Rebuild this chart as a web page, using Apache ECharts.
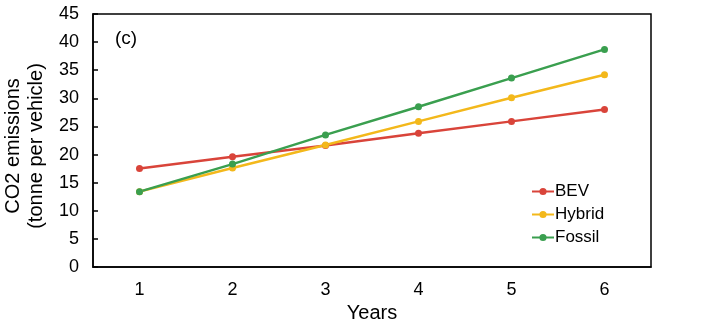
<!DOCTYPE html>
<html><head><meta charset="utf-8">
<script src="https://cdn.jsdelivr.net/npm/echarts@6/dist/echarts.min.js"></script>
<style>html,body{margin:0;padding:0;background:#fff}#c{width:720px;height:324px}</style>
</head><body><div id="c"></div>
<script>
const years = ['1','2','3','4','5','6'];
const bev = [17.5, 19.6, 21.6, 23.8, 25.9, 28.0];
const hybrid = [13.4, 17.6, 21.7, 25.9, 30.1, 34.2];
const fossil = [13.4, 18.3, 23.5, 28.5, 33.6, 38.7];
const yTicks = {min: 0, max: 45, interval: 5};
const F = 'Liberation Sans, Arial, sans-serif';
const chart = echarts.init(document.getElementById('c'), null, {renderer:'canvas'});
function s(name, data, color){
  return {name, type:'line', data, color, symbol:'circle', symbolSize:7,
    lineStyle:{width:2.5, color}, itemStyle:{color}, animation:false};
}
chart.setOption({
  animation:false,
  textStyle:{fontFamily:F},
  grid:{left:93, right:69, top:14, bottom:57, outerBoundsMode:'none', containLabel:false,
    show:true, borderColor:'#000', borderWidth:1.5, backgroundColor:'transparent'},
  xAxis:{type:'category', data:years, boundaryGap:true,
    name:'Years', nameLocation:'middle', nameGap:36,
    nameTextStyle:{fontSize:20, color:'#000', fontFamily:F},
    axisLine:{lineStyle:{color:'#000', width:1.5}},
    axisTick:{inside:true, length:5, interval:0, lineStyle:{color:'#000', width:1.5}},
    axisLabel:{fontSize:18, color:'#000', margin:14, fontFamily:F},
    splitLine:{show:false}},
  yAxis:{type:'value', min:yTicks.min, max:yTicks.max, interval:yTicks.interval,
    name:'CO2 emissions\n(tonne per vehicle)', nameLocation:'middle', nameGap:45, nameRotate:90,
    nameTextStyle:{fontSize:20, color:'#000', lineHeight:23, fontFamily:F, padding:[0,11,0,0]},
    axisLine:{show:true, lineStyle:{color:'#000', width:1.5}},
    axisTick:{show:true, inside:true, length:5, lineStyle:{color:'#000', width:1.5}},
    axisLabel:{fontSize:18, color:'#000', margin:14, fontFamily:F},
    splitLine:{show:false}},
  legend:{orient:'vertical', left:526, top:178, itemWidth:22, itemHeight:9, itemGap:6,
    textStyle:{fontSize:17, color:'#000', fontFamily:F, padding:[0,0,0,-4]},
    data:['BEV','Hybrid','Fossil']},
  graphic:[{type:'text', left:115, top:29, style:{text:'(c)', fontSize:19, fill:'#000', fontFamily:F}}],
  series:[s('BEV', bev, '#d9443a'), s('Hybrid', hybrid, '#f3b81b'), s('Fossil', fossil, '#3a9f4f')]
});
</script></body></html>
